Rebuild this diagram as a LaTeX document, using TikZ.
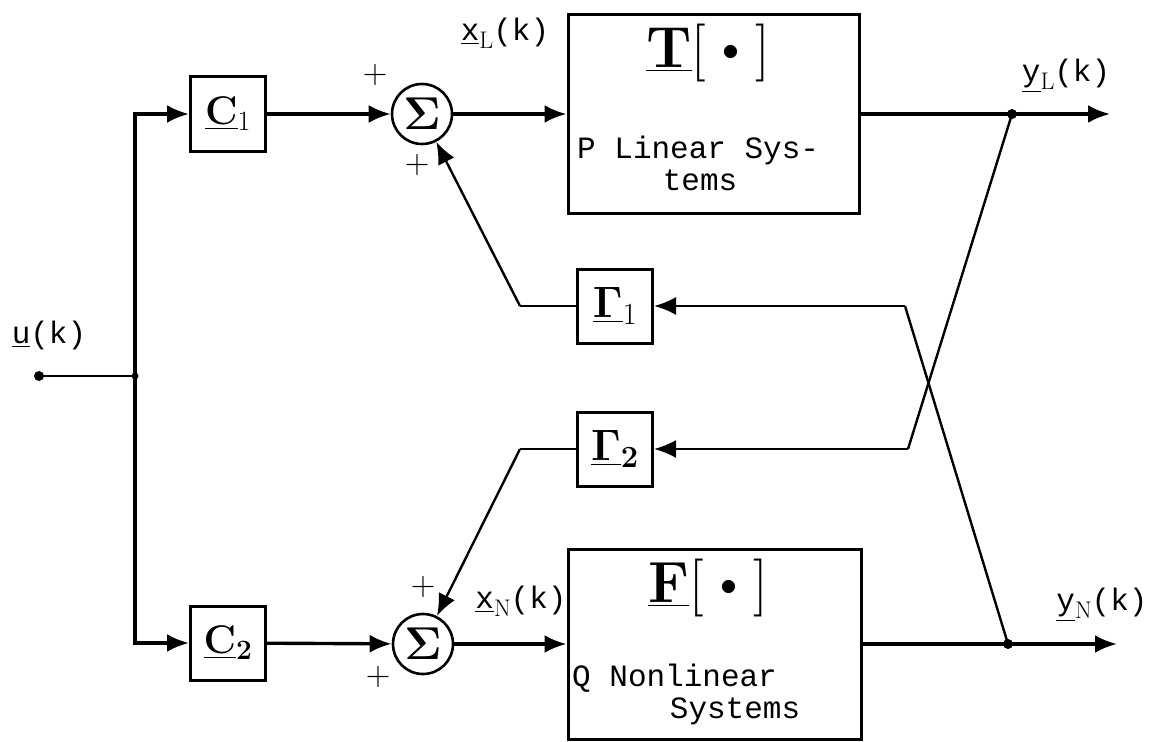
\RequirePackage{fix-cm}
\documentclass[tikz,border=0pt]{standalone}
\usepackage{amsmath}
\usepackage[no-math]{fontspec}
\newfontfamily\cour{Liberation Mono}
\usetikzlibrary{arrows.meta}
\newcommand\siglab[2]{{\cour\underline{#1}}\raisebox{-8pt}{\rmfamily\fontsize{24}{24}\selectfont #2}{\cour(k)}}
\newcommand\smallbul{\vcenter{\hbox{\fontsize{34}{34}\selectfont$\bullet$}}}
\begin{document}
\begin{tikzpicture}[x=1pt,y=-1pt,
  blk/.style={draw, line width=3pt, minimum width=75pt, minimum height=74pt, inner sep=0pt},
  sumnode/.style={draw, circle, line width=2.6pt, minimum size=60pt, inner sep=0pt, font=\fontsize{46}{46}\selectfont},
  bigbox/.style={draw, line width=3pt, inner sep=0pt},
  lab/.style={inner sep=0pt, font=\cour\fontsize{31}{31}\selectfont},
  title/.style={inner sep=0pt, font=\fontsize{58}{58}\selectfont},
  pm/.style={inner sep=0pt, font=\fontsize{34}{34}\selectfont},
  tip/.style={-{Latex[length=22pt,width=18pt]}},
  sig/.style={tip, line width=3.4pt},
  fb/.style={line width=2.4pt},
  fbtip/.style={tip, line width=2.4pt},
  jdot/.style={circle, fill, inner sep=0pt, minimum size=10pt}]
\useasboundingbox (0,0) rectangle (1155,741);
% input
\node[jdot] (in) at (39,376) {};
\node[jdot, minimum size=7pt] (j) at (135,376) {};
\node[lab] (ulab) at (49,335) {\underline{u}(k)};
% gain blocks
\node[blk] (C1) at (228,114) {\fontsize{40}{40}\selectfont$\underline{\mathbf{C}}_{1}$};
\node[blk] (C2) at (228,643) {\fontsize{40}{40}\selectfont$\underline{\mathbf{C}}_{\mathbf{2}}$};
% summing junctions
\node[sumnode] (S1) at (422,114) {$\boldsymbol{\Sigma}$};
\node[sumnode] (S2) at (423,644) {$\boldsymbol{\Sigma}$};
% system boxes
\node[bigbox, minimum width=291pt, minimum height=199pt] (T) at (713.5,114) {};
\node[bigbox, minimum width=293pt, minimum height=190pt] (F) at (714.5,644) {};
\node[title] (Tt) at (708,53) {$\underline{\mathbf{T}}[\;\smallbul\;]$};
\node[title] (Ft) at (708,588) {$\underline{\mathbf{F}}[\;\smallbul\;]$};
\node[lab, anchor=west] (Tl1) at (577,150) {P Linear Sys-};
\node[lab] (Tl2) at (700,180) {tems};
\node[lab, anchor=west] (Fl1) at (572,678) {Q Nonlinear};
\node[lab] (Fl2) at (735,711) {Systems};
% feedback blocks
\node[blk] (G1) at (615,306) {\fontsize{44}{44}\selectfont$\underline{\boldsymbol{\Gamma}}_{1}$};
\node[blk] (G2) at (615,449) {\fontsize{44}{44}\selectfont$\underline{\boldsymbol{\Gamma}}_{\mathbf{2}}$};
% outputs
\node[jdot] (jL) at (1012,114) {};
\node[jdot] (jN) at (1008,644) {};
\coordinate (oL) at (1110,114);
\coordinate (oN) at (1117,644);
\coordinate (b1R) at (905,306);
\coordinate (b2R) at (908,449);
\coordinate (b1L) at (520,306);
\coordinate (b2L) at (520,449);
% labels
\node[lab] (xL) at (505,33) {\siglab{x}{L}};
\node[lab] (xN) at (521,601) {\siglab{x}{N}};
\node[lab] (yL) at (1066,76) {\siglab{y}{L}};
\node[lab] (yN) at (1102,605) {\siglab{y}{N}};
\node[pm] (p1) at (375,75) {$+$};
\node[pm] (p2) at (417,165) {$+$};
\node[pm] (p3) at (423,587) {$+$};
\node[pm] (p4) at (378,677) {$+$};
% forward connectors
\draw[line width=2.8pt] (in.center) -- (j.center);
\draw[sig] (j.center) |- (C1);
\draw[sig] (j.center) |- (C2);
\draw[sig] (C1) -- (S1);
\draw[sig] (C2) -- (S2);
\draw[sig] (S1) -- (T.west |- S1);
\draw[sig] (S2) -- (F.west |- S2);
\draw[sig] (T.east |- jL) -- (oL);
\draw[sig] (F.east |- jN) -- (oN);
% feedback connectors
\draw[fb] (jN.center) -- (b1R);
\draw[fbtip] (b1R) -- (G1);
\draw[fb] (G1) -- (b1L);
\draw[fbtip] (b1L) -- (S1);
\draw[fb] (jL.center) -- (b2R);
\draw[fbtip] (b2R) -- (G2);
\draw[fb] (G2) -- (b2L);
\draw[fbtip] (b2L) -- (S2);
\end{tikzpicture}
\end{document}
